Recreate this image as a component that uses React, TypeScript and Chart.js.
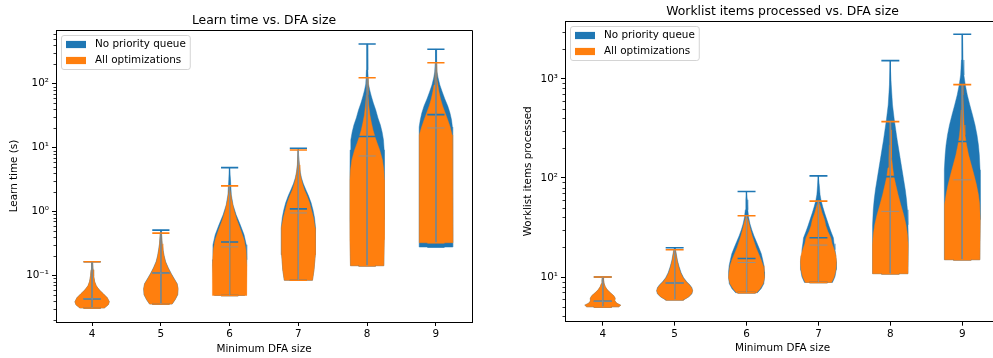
import React, { useEffect, useRef } from 'react';
import { Chart, registerables } from 'chart.js';

Chart.register(...registerables);

const FONT = '"DejaVu Sans"';
const BLUE = '#1f77b4';
const ORANGE = '#ff7f0e';
const BLUE_EDGE = 'rgba(31,119,180,0.45)';
const ORANGE_EDGE = 'rgba(255,127,14,0.45)';
const INNER_GREY = '#96918c';

const categories = [4, 5, 6, 7, 8, 9];
const seriesLabels = ['No priority queue', 'All optimizations'];
const xLabel = 'Minimum DFA size';

// ---------- Learn time ----------
const learnTitle = 'Learn time vs. DFA size';
const learnYLabel = 'Learn time (s)';
const learnYTicks = [0.1, 1, 10, 100];
const learnYTickLabels = ['10⁻¹', '10⁰', '10¹', '10²'];
const learnYRange = [0.0187, 692];

const learnBlueMin = [0.031, 0.0357, 0.0487, 0.084, 0.142, 0.278];
const learnBlueMax = [0.164, 0.512, 4.87, 9.8, 417, 345];
const learnBlueMedian = [0.043, 0.109, 0.333, 1.1, 14.9, 32.8];
const learnOrangeMin = [0.031, 0.0357, 0.0487, 0.084, 0.142, 0.325];
const learnOrangeMax = [0.164, 0.459, 2.52, 9.2, 124, 213];
const learnOrangeMedian = [0.043, 0.109, 0.28, 0.95, 7.4, 20.3];

// [value, relative width] pairs, bottom to top
const learnBlueShapes = [
  [[0.031, 0.71], [0.0348, 0.94], [0.0388, 1.0], [0.0449, 0.88], [0.0518, 0.65], [0.0598, 0.41], [0.069, 0.24], [0.0798, 0.15], [0.0989, 0.09], [0.1228, 0.06], [0.164, 0.03]],
  [[0.0357, 0.66], [0.0417, 0.83], [0.0499, 0.98], [0.0619, 1.0], [0.0741, 0.95], [0.0887, 0.78], [0.1064, 0.61], [0.1318, 0.43], [0.1637, 0.28], [0.203, 0.19], [0.252, 0.13], [0.313, 0.08], [0.459, 0.04], [0.512, 0.02]],
  [[0.0487, 0.88], [0.0716, 0.94], [0.176, 1.0], [0.302, 0.97], [0.432, 0.84], [0.619, 0.62], [0.888, 0.38], [1.27, 0.2], [1.82, 0.1], [3.13, 0.05], [4.87, 0.02]],
  [[0.084, 0.82], [0.1228, 0.91], [0.2105, 0.97], [0.361, 1.0], [0.556, 1.0], [0.797, 0.94], [1.06, 0.85], [1.37, 0.74], [1.76, 0.59], [2.18, 0.44], [2.71, 0.29], [3.36, 0.18], [4.17, 0.11], [5.37, 0.06], [9.8, 0.02]],
  [[0.142, 0.97], [0.741, 1.0], [4.48, 1.0], [9.2, 0.99], [13.2, 0.95], [17.6, 0.87], [22.6, 0.77], [29.1, 0.63], [38.8, 0.5], [49.9, 0.36], [64.2, 0.24], [79.7, 0.15], [98.9, 0.08], [164, 0.04], [417, 0.02]],
  [[0.278, 0.97], [1.52, 0.98], [15.8, 0.98], [21.0, 0.96], [27.1, 0.91], [34.8, 0.82], [44.9, 0.69], [57.7, 0.52], [74.2, 0.37], [95.5, 0.23], [123, 0.13], [152, 0.07], [218, 0.04], [345, 0.02]],
];
const learnOrangeShapes = [
  [[0.031, 0.71], [0.0348, 0.94], [0.0388, 1.0], [0.0449, 0.88], [0.0518, 0.65], [0.0598, 0.41], [0.069, 0.24], [0.0798, 0.15], [0.0989, 0.09], [0.1228, 0.06], [0.164, 0.03]],
  [[0.0357, 0.65], [0.0417, 0.82], [0.0499, 0.97], [0.0619, 1.0], [0.0741, 0.94], [0.0887, 0.76], [0.1064, 0.59], [0.1318, 0.41], [0.1637, 0.26], [0.203, 0.18], [0.252, 0.12], [0.313, 0.07], [0.459, 0.03]],
  [[0.0487, 0.97], [0.0716, 1.0], [0.147, 1.0], [0.252, 0.95], [0.361, 0.84], [0.518, 0.64], [0.741, 0.42], [1.06, 0.25], [1.52, 0.12], [1.96, 0.06], [2.52, 0.02]],
  [[0.084, 0.82], [0.1228, 0.91], [0.2105, 0.97], [0.361, 1.0], [0.556, 0.97], [0.797, 0.88], [1.06, 0.76], [1.37, 0.65], [1.76, 0.5], [2.18, 0.35], [2.71, 0.24], [3.36, 0.15], [4.17, 0.09], [5.37, 0.05], [9.2, 0.02]],
  [[0.142, 0.97], [0.361, 1.0], [3.13, 1.0], [4.48, 0.97], [6.42, 0.89], [9.2, 0.73], [11.8, 0.58], [14.7, 0.46], [18.9, 0.34], [24.3, 0.25], [32.4, 0.16], [46.5, 0.09], [66.6, 0.05], [124, 0.02]],
  [[0.325, 0.97], [1.52, 0.98], [9.2, 0.98], [15.8, 0.94], [21.0, 0.83], [27.1, 0.69], [34.8, 0.54], [44.9, 0.39], [57.7, 0.27], [74.2, 0.18], [95.5, 0.11], [123, 0.06], [164, 0.035], [213, 0.02]],
];

// ---------- Worklist items ----------
const workTitle = 'Worklist items processed vs. DFA size';
const workYLabel = 'Worklist items processed';
const workYTicks = [10, 100, 1000];
const workYTickLabels = ['10¹', '10²', '10³'];
const workYRange = [3.54, 3837];

const workBlueMin = [5.0, 5.9, 6.95, 8.82, 10.8, 14.94];
const workBlueMax = [10.0, 19.74, 72.9, 105, 1526, 2816];
const workBlueMedian = [5.7, 8.7, 15.4, 24.9, 103, 233];
const workOrangeMin = [5.0, 5.9, 6.95, 8.82, 10.8, 14.94];
const workOrangeMax = [10.0, 18.84, 41.5, 58.37, 370.3, 874];
const workOrangeMedian = [5.7, 8.7, 14, 21, 46, 95.7];

const workBlueShapes = [
  [[5.0, 0.89], [5.196, 1.0], [5.444, 0.78], [5.768, 0.67], [6.114, 0.69], [6.48, 0.61], [6.946, 0.42], [7.447, 0.25], [7.984, 0.14], [8.56, 0.08], [9.39, 0.045], [10.0, 0.02]],
  [[5.9, 0.52], [6.33, 0.8], [6.785, 0.96], [7.275, 1.0], [7.8, 0.96], [8.365, 0.84], [8.97, 0.67], [9.84, 0.5], [11.05, 0.36], [12.7, 0.25], [14.6, 0.16], [16.78, 0.1], [18.84, 0.05], [19.74, 0.02]],
  [[6.95, 0.61], [7.62, 0.81], [8.56, 0.96], [9.84, 1.0], [11.31, 1.0], [13.0, 0.97], [14.94, 0.9], [17.17, 0.82], [19.74, 0.69], [22.69, 0.55], [26.08, 0.41], [29.99, 0.29], [34.46, 0.19], [39.6, 0.12], [47.7, 0.07], [60.1, 0.04], [72.9, 0.02]],
  [[8.82, 0.78], [10.07, 0.92], [11.85, 0.99], [14.27, 1.0], [16.39, 0.97], [18.84, 0.92], [21.66, 0.87], [24.9, 0.83], [28.62, 0.7], [32.89, 0.58], [37.81, 0.47], [44.48, 0.34], [51.13, 0.24], [58.79, 0.15], [67.54, 0.09], [83.25, 0.05], [105, 0.02]],
  [[10.8, 0.98], [23.77, 1.0], [33.68, 0.98], [47.7, 0.95], [60.14, 0.9], [75.86, 0.83], [95.7, 0.74], [120.7, 0.65], [152.2, 0.56], [192, 0.47], [242.2, 0.38], [305.4, 0.3], [385.1, 0.22], [545.7, 0.12], [867.9, 0.05], [1526, 0.017]],
  [[14.94, 0.98], [37.81, 1.0], [75.86, 1.0], [120.7, 0.99], [171, 0.95], [215.6, 0.9], [271.9, 0.82], [343, 0.71], [432.6, 0.57], [545.7, 0.42], [688.2, 0.28], [867.9, 0.17], [1094.6, 0.09], [1550.6, 0.045], [2816, 0.017]],
];
const workOrangeShapes = [
  [[5.0, 0.89], [5.196, 1.0], [5.444, 0.78], [5.768, 0.67], [6.114, 0.69], [6.48, 0.61], [6.946, 0.42], [7.447, 0.25], [7.984, 0.14], [8.56, 0.08], [9.39, 0.045], [10.0, 0.02]],
  [[5.9, 0.5], [6.33, 0.78], [6.785, 0.94], [7.275, 1.0], [7.8, 0.94], [8.365, 0.81], [8.97, 0.64], [9.84, 0.47], [11.05, 0.33], [12.7, 0.22], [14.6, 0.14], [16.78, 0.08], [18.84, 0.03]],
  [[6.95, 0.56], [7.62, 0.75], [8.56, 0.92], [9.84, 1.0], [11.31, 0.97], [13.0, 0.92], [14.94, 0.81], [17.17, 0.67], [19.74, 0.53], [22.69, 0.42], [26.08, 0.31], [29.99, 0.22], [34.46, 0.14], [38.7, 0.07], [41.5, 0.02]],
  [[8.82, 0.73], [10.07, 0.88], [11.85, 0.97], [14.27, 1.0], [16.39, 0.97], [18.84, 0.88], [21.66, 0.76], [24.9, 0.69], [28.62, 0.53], [32.89, 0.41], [37.81, 0.34], [44.48, 0.2], [51.13, 0.11], [55.46, 0.05], [58.37, 0.02]],
  [[10.8, 0.98], [21.2, 0.99], [26.7, 0.95], [33.68, 0.87], [42.46, 0.74], [53.55, 0.58], [67.54, 0.43], [85.2, 0.3], [102.6, 0.2], [126.4, 0.13], [159.4, 0.08], [215.6, 0.055], [305.4, 0.04], [370.3, 0.02]],
  [[14.94, 0.98], [37.81, 1.0], [53.55, 0.97], [67.54, 0.9], [85.2, 0.79], [107.5, 0.65], [135.6, 0.5], [171, 0.35], [215.6, 0.24], [271.9, 0.15], [343, 0.1], [485.8, 0.067], [688.2, 0.04], [874, 0.02]],
];

// ---------- helpers ----------
const HALF = 0.25; // half of violin width (x units)
const BAR = 0.125; // half length of extrema / median bars
const GAP = { x: null, y: null };

function violinPolygon(cat: number, shape: number[][]) {
  const leftSide = shape.map(([v, w]) => ({ x: cat - HALF * w, y: v }));
  const rightSide = shape.slice().reverse().map(([v, w]) => ({ x: cat + HALF * w, y: v }));
  return [...leftSide, ...rightSide, leftSide[0]];
}

function extremaBars(mins: number[], maxs: number[]) {
  const pts: any[] = [];
  categories.forEach((c, i) => {
    pts.push({ x: c - BAR, y: maxs[i] }, { x: c + BAR, y: maxs[i] }, GAP);
    pts.push({ x: c - BAR, y: mins[i] }, { x: c + BAR, y: mins[i] }, GAP);
  });
  return pts;
}
function verticalBars(mins: number[], maxs: number[]) {
  const pts: any[] = [];
  categories.forEach((c, i) => {
    pts.push({ x: c, y: mins[i] }, { x: c, y: maxs[i] }, GAP);
  });
  return pts;
}
function medianBars(meds: number[]) {
  const pts: any[] = [];
  categories.forEach((c, i) => {
    pts.push({ x: c - BAR, y: meds[i] }, { x: c + BAR, y: meds[i] }, GAP);
  });
  return pts;
}

function lineDs(data: any[], color: string, width: number, order: number) {
  return {
    data,
    borderColor: color,
    backgroundColor: color,
    borderWidth: width,
    pointRadius: 0,
    pointHitRadius: 0,
    fill: false,
    spanGaps: false,
    tension: 0,
    borderCapStyle: 'butt',
    order,
  };
}

function bodyDs(data: any[], color: string, edge: string, order: number) {
  return {
    data,
    backgroundColor: color,
    borderColor: edge,
    borderWidth: 1,
    borderJoinStyle: 'round',
    pointRadius: 0,
    pointHitRadius: 0,
    fill: 'shape',
    tension: 0,
    order,
  };
}

function buildDatasets(p: any) {
  const ds: any[] = [];
  categories.forEach((c, i) => ds.push(bodyDs(violinPolygon(c, p.blueShapes[i]), BLUE, BLUE_EDGE, 6)));
  categories.forEach((c, i) => ds.push(bodyDs(violinPolygon(c, p.orangeShapes[i]), ORANGE, ORANGE_EDGE, 5)));
  ds.push(lineDs(verticalBars(p.blueMin, p.blueMax), BLUE, 1.2, 4));
  ds.push(lineDs([...extremaBars(p.blueMin, p.blueMax), ...medianBars(p.blueMedian)], BLUE, 1.6, 4));
  ds.push(lineDs(extremaBars(p.orangeMin, p.orangeMax), ORANGE, 1.6, 3));
  ds.push(lineDs([...verticalBars(p.orangeMin, p.orangeMax), ...medianBars(p.orangeMedian)], INNER_GREY, 1.0, 2));
  return ds;
}

function roundRect(ctx: CanvasRenderingContext2D, x: number, y: number, w: number, h: number, r: number) {
  ctx.beginPath();
  ctx.moveTo(x + r, y);
  ctx.lineTo(x + w - r, y);
  ctx.arcTo(x + w, y, x + w, y + r, r);
  ctx.lineTo(x + w, y + h - r);
  ctx.arcTo(x + w, y + h, x + w - r, y + h, r);
  ctx.lineTo(x + r, y + h);
  ctx.arcTo(x, y + h, x, y + h - r, r);
  ctx.lineTo(x, y + r);
  ctx.arcTo(x, y, x + r, y, r);
  ctx.closePath();
}

const decorPlugin = {
  id: 'decor',
  afterDraw(chart: any, _args: any, opts: any) {
    const { ctx, chartArea } = chart;
    const { left, right, top, bottom } = chartArea;
    const ys = chart.scales.y;
    ctx.save();
    // top and right spines
    ctx.strokeStyle = '#000';
    ctx.lineWidth = 1;
    ctx.beginPath();
    const ty = Math.round(top - 0.5) + 0.5;
    const rx = Math.round(right - 0.5) + 0.5;
    ctx.moveTo(left, ty);
    ctx.lineTo(rx, ty);
    ctx.lineTo(rx, bottom);
    ctx.stroke();
    // minor log ticks
    ctx.lineWidth = 0.8;
    ctx.beginPath();
    const lo = Math.floor(Math.log10(ys.min));
    const hi = Math.ceil(Math.log10(ys.max));
    for (let d = lo; d <= hi; d++) {
      for (let k = 2; k <= 9; k++) {
        const v = k * Math.pow(10, d);
        if (v <= ys.min || v >= ys.max) continue;
        const py = Math.round(ys.getPixelForValue(v)) + 0.5;
        ctx.moveTo(left - 2.5, py);
        ctx.lineTo(left, py);
      }
    }
    ctx.stroke();
    // title
    ctx.fillStyle = '#000';
    ctx.font = `12.4px ${FONT}`;
    ctx.textAlign = 'center';
    ctx.textBaseline = 'alphabetic';
    ctx.fillText(opts.title, (left + right) / 2, top - 6);
    // legend
    ctx.font = `10.4px ${FONT}`;
    const labels: string[] = opts.labels;
    const colors: string[] = opts.colors;
    const tw = Math.max(...labels.map((l) => ctx.measureText(l).width));
    const fx = left + 5.5;
    const fy = top + 5.5;
    const fw = 4.5 + 20 + 9 + tw + 4.5;
    const fh = 34;
    roundRect(ctx, fx, fy, fw, fh, 2.5);
    ctx.fillStyle = 'rgba(255,255,255,0.8)';
    ctx.fill();
    ctx.strokeStyle = '#d4d4d4';
    ctx.lineWidth = 1;
    ctx.stroke();
    labels.forEach((l, i) => {
      const cy = fy + 9 + i * 16;
      ctx.fillStyle = colors[i];
      ctx.fillRect(fx + 4.5, cy - 3.6, 20, 7.2);
      ctx.fillStyle = '#000';
      ctx.textAlign = 'left';
      ctx.textBaseline = 'middle';
      ctx.fillText(l, fx + 4.5 + 20 + 9, cy);
    });
    ctx.restore();
  },
};

const tickFont = { family: FONT, size: 10.4 };

function makeConfig(p: any) {
  return {
    type: 'line',
    data: { datasets: buildDatasets(p) },
    plugins: [decorPlugin],
    options: {
      responsive: false,
      animation: false,
      devicePixelRatio: 1,
      events: [],
      layout: { padding: { left: 0, right: p.padRight, top: p.padTop, bottom: 0 } },
      plugins: {
        legend: { display: false },
        tooltip: { enabled: false },
        title: { display: false },
        decor: { title: p.title, labels: seriesLabels, colors: [BLUE, ORANGE] },
      },
      scales: {
        x: {
          type: 'linear',
          min: 3.475,
          max: 9.525,
          bounds: 'data',
          afterBuildTicks: (s: any) => {
            s.ticks = categories.map((v) => ({ value: v }));
          },
          afterFit: (s: any) => {
            s.height = p.xAxisHeight;
          },
          ticks: {
            font: tickFont,
            color: '#000',
            padding: 2,
            autoSkip: false,
            maxRotation: 0,
            callback: (v: any) => String(v),
          },
          grid: { drawOnChartArea: false, drawTicks: true, tickLength: 4, tickColor: '#000', tickWidth: 1 },
          border: { display: true, color: '#000', width: 1 },
          title: {
            display: true,
            text: xLabel,
            font: tickFont,
            color: '#000',
            padding: { top: 0, bottom: p.xTitlePadBottom },
          },
        },
        y: {
          type: 'logarithmic',
          min: p.yRange[0],
          max: p.yRange[1],
          bounds: 'data',
          afterBuildTicks: (s: any) => {
            s.ticks = p.yTicks.map((v: number) => ({ value: v }));
          },
          afterFit: (s: any) => {
            s.width = p.yAxisWidth;
          },
          ticks: {
            font: tickFont,
            color: '#000',
            padding: 3,
            autoSkip: false,
            callback: (v: any) => {
              const i = p.yTicks.findIndex((t: number) => Math.abs(t - v) / t < 1e-6);
              return i >= 0 ? p.yTickLabels[i] : '';
            },
          },
          grid: { drawOnChartArea: false, drawTicks: true, tickLength: 4, tickColor: '#000', tickWidth: 1 },
          border: { display: true, color: '#000', width: 1 },
          title: {
            display: true,
            text: p.yLabel,
            font: tickFont,
            color: '#000',
            padding: { top: p.yTitlePad, bottom: 0 },
          },
        },
      },
    },
  };
}

const learnPanel = {
  title: learnTitle,
  yLabel: learnYLabel,
  yTicks: learnYTicks,
  yTickLabels: learnYTickLabels,
  yRange: learnYRange,
  blueMin: learnBlueMin,
  blueMax: learnBlueMax,
  blueMedian: learnBlueMedian,
  orangeMin: learnOrangeMin,
  orangeMax: learnOrangeMax,
  orangeMedian: learnOrangeMedian,
  blueShapes: learnBlueShapes,
  orangeShapes: learnOrangeShapes,
  yAxisWidth: 56,
  padRight: 24,
  padTop: 30,
  xAxisHeight: 36,
  xTitlePadBottom: 2.8,
  yTitlePad: 7.8,
};

const workPanel = {
  title: workTitle,
  yLabel: workYLabel,
  yTicks: workYTicks,
  yTickLabels: workYTickLabels,
  yRange: workYRange,
  blueMin: workBlueMin,
  blueMax: workBlueMax,
  blueMedian: workBlueMedian,
  orangeMin: workOrangeMin,
  orangeMax: workOrangeMax,
  orangeMedian: workOrangeMedian,
  blueShapes: workBlueShapes,
  orangeShapes: workOrangeShapes,
  yAxisWidth: 68,
  padRight: 7,
  padTop: 21,
  xAxisHeight: 36.3,
  xTitlePadBottom: 3.8,
  yTitlePad: 24.8,
};

function Panel({ panel, left, width }: { panel: any; left: number; width: number }) {
  const ref = useRef<HTMLCanvasElement>(null);
  useEffect(() => {
    if (!ref.current) return;
    const chart = new Chart(ref.current, makeConfig(panel) as any);
    return () => chart.destroy();
  }, [panel]);
  return (
    <canvas
      ref={ref}
      width={width}
      height={358}
      style={{ position: 'absolute', left, top: 0, width, height: 358, display: 'block' }}
    />
  );
}

export default function App() {
  return (
    <div
      style={{
        position: 'fixed',
        left: 0,
        top: 0,
        width: 993,
        height: 358,
        overflow: 'hidden',
        background: '#fff',
      }}
    >
      <Panel panel={learnPanel} left={0} width={496} />
      <Panel panel={workPanel} left={497} width={510} />
    </div>
  );
}
